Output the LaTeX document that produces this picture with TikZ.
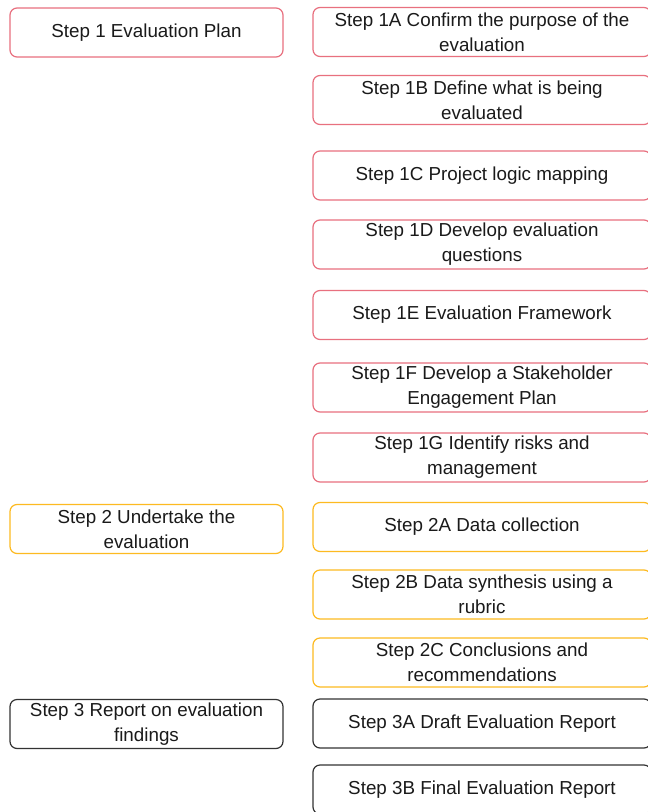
\documentclass[tikz,border=0pt]{standalone}
\usepackage{fontspec}
\setmainfont{Liberation Sans}
\definecolor{pinkb}{HTML}{E8707F}
\definecolor{orangeb}{HTML}{FDBA21}
\definecolor{darkb}{HTML}{333333}
\definecolor{txt}{HTML}{1A1A1A}
\begin{document}
\begin{tikzpicture}[x=1pt,y=-1pt,
  box/.style={draw, line width=1.2pt, rounded corners=7pt, fill=white,
    minimum height=49pt, align=center, text=txt,
    font=\fontsize{18.8}{25}\selectfont, inner sep=0pt},
  lbox/.style={box, minimum width=273pt},
  rbox/.style={box, minimum width=338pt},
  pk/.style={draw=pinkb}, og/.style={draw=orangeb}, dk/.style={draw=darkb}]
\useasboundingbox (0,0) rectangle (648,812);
\clip (0,0) rectangle (648,812);
\fill[white] (0,0) rectangle (648,812);
% left column
\node[lbox,pk] (s1) at (146.5,32.5) {Step 1 Evaluation Plan};
\node[lbox,og] (s2) at (146.5,529) {Step 2 Undertake the\\evaluation};
\node[lbox,dk] (s3) at (146.5,724) {Step 3 Report on evaluation\\findings};
% right column
\node[rbox,pk] (s1a) at (482,32) {Step 1A Confirm the purpose of the\\evaluation};
\node[rbox,pk] (s1b) at (482,100) {Step 1B Define what is being\\evaluated};
\node[rbox,pk] (s1c) at (482,175.5) {Step 1C Project logic mapping};
\node[rbox,pk] (s1d) at (482,244.5) {Step 1D Develop evaluation\\questions};
\node[rbox,pk] (s1e) at (482,315) {Step 1E Evaluation Framework};
\node[rbox,pk] (s1f) at (482,387.5) {Step 1F Develop a Stakeholder\\Engagement Plan};
\node[rbox,pk] (s1g) at (482,457.5) {Step 1G Identify risks and\\management};
\node[rbox,og] (s2a) at (482,527) {Step 2A Data collection};
\node[rbox,og] (s2b) at (482,594.5) {Step 2B Data synthesis using a\\rubric};
\node[rbox,og] (s2c) at (482,662.5) {Step 2C Conclusions and\\recommendations};
\node[rbox,dk] (s3a) at (482,723.5) {Step 3A Draft Evaluation Report};
\node[rbox,dk] (s3b) at (482,789.5) {Step 3B Final Evaluation Report};
\end{tikzpicture}
\end{document}
